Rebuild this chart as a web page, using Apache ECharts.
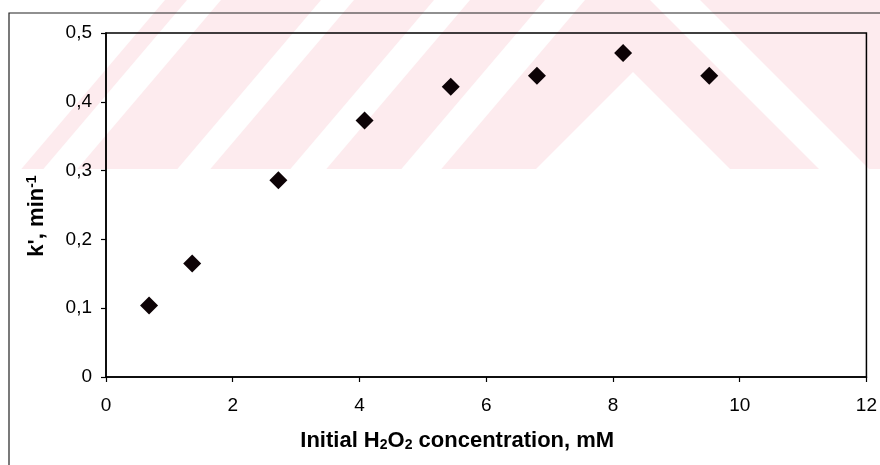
<!DOCTYPE html>
<html>
<head>
<meta charset="utf-8">
<script src="https://cdn.jsdelivr.net/npm/echarts@6/dist/echarts.min.js"></script>
<style>
html,body{margin:0;padding:0;background:#fff;}
#c{width:880px;height:465px;}
</style>
</head>
<body>
<div id="c"></div>
<script>
// Data
var concentration = [0.68, 1.36, 2.72, 4.08, 5.44, 6.80, 8.16, 9.52];
var kPrime = [0.104, 0.165, 0.286, 0.373, 0.422, 0.438, 0.471, 0.438];
var xTicks = [0, 2, 4, 6, 8, 10, 12];
var yTicks = [0, 0.1, 0.2, 0.3, 0.4, 0.5];

var points = concentration.map(function (x, i) { return [x, kPrime[i]]; });

var FONT = 'Arial, "Liberation Sans", sans-serif';
var PINK = '#fdebee';

// background watermark (decorative)
function band(a, b) {
  var k = 143.65;
  return { type: 'polygon', z: -10, silent: true,
    shape: { points: [[a, 0], [b, 0], [b - k, 169], [a - k, 169]] },
    style: { fill: '#fff' } };
}
var wm = [
  { type: 'rect', z: -11, silent: true, shape: { x: 0, y: 0, width: 880, height: 169 }, style: { fill: PINK } },
  { type: 'polygon', z: -10, silent: true, shape: { points: [[0, 0], [165, 0], [21.35, 169], [0, 169]] }, style: { fill: '#fff' } },
  band(187, 221), band(321, 354), band(434, 470), band(545, 585),
  { type: 'polygon', z: -10, silent: true, shape: { points: [[650, 0], [700, 0], [869, 169], [819, 169]] }, style: { fill: '#fff' } },
  { type: 'polygon', z: -10, silent: true, shape: { points: [[633, 72], [730, 169], [536, 169]] }, style: { fill: '#fff' } },
  { type: 'polyline', z: 5, silent: true, shape: { points: [[9, 470], [9, 13], [885, 13]] }, style: { stroke: '#222', lineWidth: 1.2, fill: null } }
];

var chart = echarts.init(document.getElementById('c'), null, { renderer: 'canvas' });
chart.setOption({
  backgroundColor: '#fff',
  animation: false,
  graphic: { elements: wm },
  grid: { left: 106, right: 7, top: 33, bottom: 88, show: true, borderColor: '#000', borderWidth: 1.5, backgroundColor: 'transparent' },
  xAxis: {
    type: 'value', min: xTicks[0], max: xTicks[xTicks.length - 1], interval: 2,
    name: 'Initial H{s|2}O{s|2} concentration, mM',
    nameLocation: 'middle', nameGap: 52,
    nameTextStyle: { fontFamily: FONT, fontSize: 22, fontWeight: 'bold', color: '#000', padding: [0, 58, 0, 0],
      rich: { s: { fontFamily: FONT, fontSize: 14, fontWeight: 'bold', color: '#000', verticalAlign: 'bottom', padding: [9, 0, 0, 0] } } },
    axisLine: { show: true, lineStyle: { color: '#000', width: 1.5 } },
    axisTick: { show: true, inside: false, length: 5, lineStyle: { color: '#000', width: 1.2 } },
    axisLabel: { fontFamily: FONT, fontSize: 19, color: '#000', margin: 19 },
    splitLine: { show: false }
  },
  yAxis: {
    type: 'value', min: yTicks[0], max: yTicks[yTicks.length - 1], interval: 0.1,
    name: "k', min{p|-1}",
    nameLocation: 'middle', nameGap: 58, nameRotate: 90,
    nameTextStyle: { fontFamily: FONT, fontSize: 22, fontWeight: 'bold', color: '#000', padding: [0, 22, 0, 0],
      rich: { p: { fontFamily: FONT, fontSize: 14, fontWeight: 'bold', color: '#000', verticalAlign: 'top', padding: [0, 0, 9, 0] } } },
    axisLine: { show: true, lineStyle: { color: '#000', width: 1.5 } },
    axisTick: { show: true, inside: false, length: 5, lineStyle: { color: '#000', width: 1.2 } },
    axisLabel: { fontFamily: FONT, fontSize: 19, color: '#000', margin: 14,
      formatter: function (v) { return v === 0 ? '0' : v.toFixed(1).replace('.', ','); } },
    splitLine: { show: false }
  },
  series: [{
    type: 'scatter',
    data: points,
    symbol: 'diamond',
    symbolSize: [18, 18],
    itemStyle: { color: '#0d0306', opacity: 1 }
  }]
});
</script>
</body>
</html>
